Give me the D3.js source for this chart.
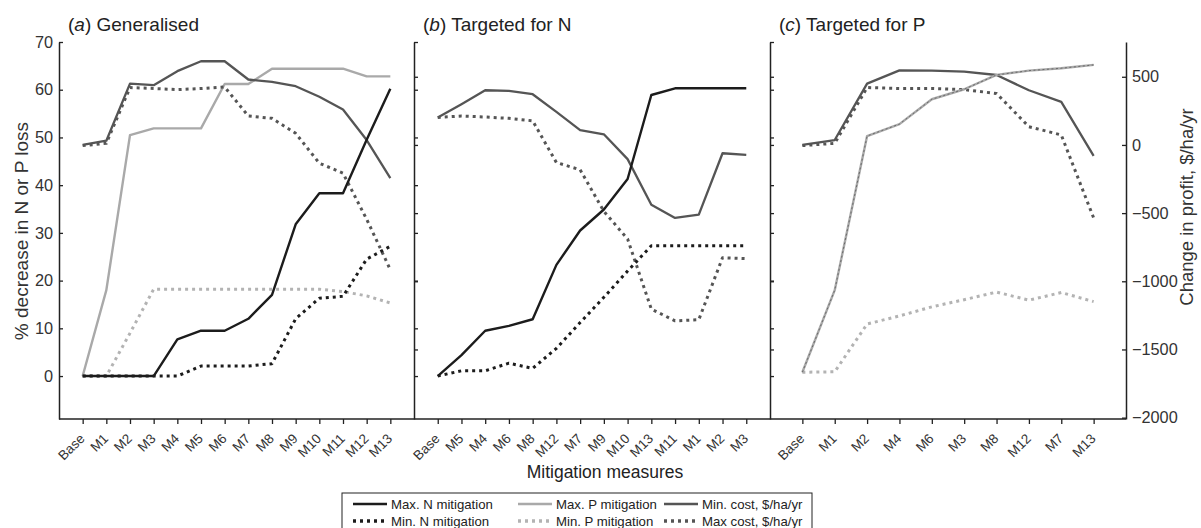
<!DOCTYPE html>
<html>
<head>
<meta charset="utf-8">
<script src="https://cdn.jsdelivr.net/npm/d3@7"></script>
<style>
  body { margin: 0; background: #fff; }
  svg { font-family: "Liberation Sans", Arial, sans-serif; }
</style>
</head>
<body>
<svg class="chart" width="1201" height="528"></svg>
<script>
// categories of each panel
let catsA = ["Base","M1","M2","M3","M4","M5","M6","M7","M8","M9","M10","M11","M12","M13"];
let catsB = ["Base","M5","M4","M6","M8","M12","M7","M9","M10","M13","M11","M1","M2","M3"];
let catsC = ["Base","M1","M2","M4","M6","M3","M8","M12","M7","M13"];

// (a) generalised : % decrease (left axis) and $/ha/yr (right axis)
let aMaxN = [0,0,0,0,7.7,9.5,9.5,12,17,31.8,38.3,38.3,49.5,60.2];
let aMinN = [0,0,0,0,0,2.1,2.1,2.1,2.6,12,16.3,16.7,24.5,27.2];
let aMaxP = [0,18,50.5,51.9,51.9,51.9,61.2,61.2,64.4,64.4,64.4,64.4,62.8,62.8];
let aMinP = [0,0,9,18.2,18.2,18.2,18.2,18.2,18.2,18.2,18.2,17.7,16.8,15.3];
let aMinCost = [0,31,450,438,541,614,614,480,462,431,353,260,36,-243];
let aMaxCost = [-5,12,421,414,406,414,425,212,195,85,-134,-207,-545,-915];

// (b) targeted for N
let bMaxN = [0,4.4,9.5,10.5,11.9,23.3,30.5,34.9,41.3,58.9,60.3,60.3,60.3,60.3];
let bMinN = [0,1.1,1.1,2.7,1.6,5.8,11.2,16.5,22,27.3,27.3,27.3,27.3,27.3];
let bMinCost = [202,299,401,396,372,243,109,78,-104,-438,-535,-511,-61,-73];
let bMaxCost = [202,212,205,195,177,-129,-182,-487,-690,-1204,-1290,-1282,-827,-834];

// (c) targeted for P
let cMaxP = [0.8,18,50.3,52.8,58,60.1,63.1,64,64.5,65.2];
let cMinP = [0.8,0.9,10.9,12.6,14.5,16,17.6,15.9,17.5,15.6];
let cMinCost = [0,36,450,547,545,538,513,401,316,-80];
let cMaxCost = [-5,12,421,414,414,406,377,134,73,-535];

// tick values
let leftTicks = [0,10,20,30,40,50,60,70];
let rightTicks = [500,0,-500,-1000,-1500,-2000];
let innerRightTicks = [500,0,-500,-1000,-1500];

let legendLabels = ["Max. N mitigation","Min. N mitigation","Max. P mitigation",
                    "Min. P mitigation","Min. cost, $/ha/yr","Max cost, $/ha/yr"];

// setup
let plotTop = 42, plotBottom = 419;
let panelEdges = [59, 414, 770, 1126];

let yL = d3.scaleLinear().domain([-9, 70]).range([plotBottom, plotTop]);
let yR = d3.scaleLinear().domain([-2010, 755]).range([plotBottom, plotTop]);

let styles = {
  maxN:    {stroke: '#1c1c1c', width: 2.4, dash: null},
  minN:    {stroke: '#1c1c1c', width: 3,   dash: '3,4'},
  maxP:    {stroke: '#a9a9a9', width: 2.4, dash: null},
  minP:    {stroke: '#b3b3b3', width: 3,   dash: '3,4'},
  minCost: {stroke: '#555555', width: 2.3, dash: null},
  maxCost: {stroke: '#555555', width: 3,   dash: '3,4'}
};

let panels = [
  {cats: catsA, title: 'a', name: ') Generalised', series: [
    ['maxP', aMaxP, yL], ['minP', aMinP, yL], ['minCost', aMinCost, yR],
    ['maxCost', aMaxCost, yR], ['maxN', aMaxN, yL], ['minN', aMinN, yL]]},
  {cats: catsB, title: 'b', name: ') Targeted for N', series: [
    ['minCost', bMinCost, yR], ['maxCost', bMaxCost, yR],
    ['maxN', bMaxN, yL], ['minN', bMinN, yL]]},
  {cats: catsC, title: 'c', name: ') Targeted for P', series: [
    ['minP', cMinP, yL], ['minCost', cMinCost, yR], ['maxCost', cMaxCost, yR],
    ['maxP', cMaxP, yL], ['overlay', cMaxP, yL]]}
];

let svg = d3.select('svg.chart');

panels.forEach((p, i) => {
  let x = d3.scalePoint().domain(p.cats).range([panelEdges[i], panelEdges[i + 1]]).padding(1);
  let g = svg.append('g');

  // bottom axis with rotated labels
  let xAxis = g.append('g')
    .attr('transform', `translate(0,${plotBottom})`)
    .call(d3.axisBottom(x).tickSize(5).tickSizeOuter(0));
  xAxis.select('.domain').remove();
  xAxis.selectAll('line').attr('stroke', '#222').attr('stroke-width', 1.3);
  xAxis.selectAll('text')
    .attr('font-size', 13.5)
    .attr('fill', '#333')
    .attr('text-anchor', 'end')
    .attr('x', 0).attr('y', 0)
    .attr('dy', '0.35em')
    .attr('transform', 'translate(-1,17) rotate(-45)');

  // panel title
  let t = g.append('text')
    .attr('x', panelEdges[i] + 9)
    .attr('y', 31)
    .attr('font-size', 19)
    .attr('fill', '#222');
  t.append('tspan').text('(');
  t.append('tspan').attr('font-style', 'italic').text(p.title);
  t.append('tspan').text(p.name);

  // lines
  p.series.forEach(s => {
    let st = s[0] === 'overlay' ? {stroke: '#6a6a6a', width: 1, dash: '2,2.5'} : styles[s[0]];
    let yScale = s[2];
    let line = d3.line()
      .x((d, j) => x(p.cats[j]))
      .y(d => yScale(d));
    g.append('path')
      .datum(s[1])
      .attr('d', line)
      .attr('fill', 'none')
      .attr('stroke', st.stroke)
      .attr('stroke-width', st.width)
      .attr('stroke-dasharray', st.dash)
      .attr('stroke-linejoin', 'round');
  });
});

// bottom axis line across all panels
svg.append('line')
  .attr('x1', panelEdges[0]).attr('x2', panelEdges[3])
  .attr('y1', plotBottom).attr('y2', plotBottom)
  .attr('stroke', '#222').attr('stroke-width', 1.5);

// left axis with labels
let leftAxis = svg.append('g')
  .attr('transform', `translate(${panelEdges[0]},0)`)
  .call(d3.axisLeft(yL).tickValues(leftTicks).tickSize(-4).tickSizeOuter(0).tickPadding(6));
leftAxis.select('.domain').attr('stroke', '#222').attr('stroke-width', 1.5);
leftAxis.selectAll('line').attr('stroke', '#222').attr('stroke-width', 1.3);
leftAxis.selectAll('text').attr('font-size', 16.3).attr('fill', '#333');

// inner axes: ticks of both scales, no labels
[panelEdges[1], panelEdges[2]].forEach(px => {
  let ga = svg.append('g')
    .attr('transform', `translate(${px},0)`)
    .call(d3.axisRight(yL).tickValues(leftTicks).tickSize(4).tickSizeOuter(0).tickFormat(''));
  ga.select('.domain').attr('stroke', '#222').attr('stroke-width', 1.5);
  ga.selectAll('line').attr('stroke', '#222').attr('stroke-width', 1.3);
  let gb = svg.append('g')
    .attr('transform', `translate(${px},0)`)
    .call(d3.axisRight(yR).tickValues(innerRightTicks).tickSize(4).tickSizeOuter(0).tickFormat(''));
  gb.select('.domain').remove();
  gb.selectAll('line').attr('stroke', '#222').attr('stroke-width', 1.3);
});

// right axis with labels
let rightAxis = svg.append('g')
  .attr('transform', `translate(${panelEdges[3]},0)`)
  .call(d3.axisRight(yR).tickValues(rightTicks).tickSize(-4).tickSizeOuter(0).tickPadding(6)
    .tickFormat(d => d < 0 ? '\u2212' + Math.abs(d) : d));
rightAxis.select('.domain').attr('stroke', '#222').attr('stroke-width', 1.5);
rightAxis.selectAll('line').attr('stroke', '#222').attr('stroke-width', 1.3);
rightAxis.selectAll('text').attr('font-size', 16.3).attr('fill', '#333');

// axis titles
svg.append('text')
  .attr('transform', 'translate(21,231) rotate(-90)')
  .attr('text-anchor', 'middle')
  .attr('dy', '0.35em')
  .attr('font-size', 19).attr('fill', '#333')
  .text('% decrease in N or P loss');

svg.append('text')
  .attr('transform', 'translate(1187,207) rotate(-90)')
  .attr('text-anchor', 'middle')
  .attr('dy', '0.35em')
  .attr('font-size', 18.5).attr('fill', '#333')
  .text('Change in profit, $/ha/yr');

svg.append('text')
  .attr('x', 605).attr('y', 478)
  .attr('text-anchor', 'middle')
  .attr('font-size', 17.5).attr('fill', '#222')
  .text('Mitigation measures');

// legend
let legend = svg.append('g');
legend.append('rect')
  .attr('x', 342).attr('y', 493)
  .attr('width', 470).attr('height', 44)
  .attr('fill', 'none').attr('stroke', '#222').attr('stroke-width', 1);

let legendKeys = ['maxN', 'minN', 'maxP', 'minP', 'minCost', 'maxCost'];
let colX = [353, 518, 664];
let rowY = [504, 521];
legendKeys.forEach((k, i) => {
  let cx = colX[Math.floor(i / 2)];
  let cy = rowY[i % 2];
  let st = styles[k];
  legend.append('line')
    .attr('x1', cx).attr('x2', cx + 34)
    .attr('y1', cy).attr('y2', cy)
    .attr('stroke', st.stroke)
    .attr('stroke-width', st.width + 0.3)
    .attr('stroke-dasharray', st.dash);
  legend.append('text')
    .attr('x', cx + 38).attr('y', cy)
    .attr('dy', '0.35em')
    .attr('font-size', 13.2).attr('fill', '#222')
    .text(legendLabels[i]);
});
</script>
</body>
</html>
